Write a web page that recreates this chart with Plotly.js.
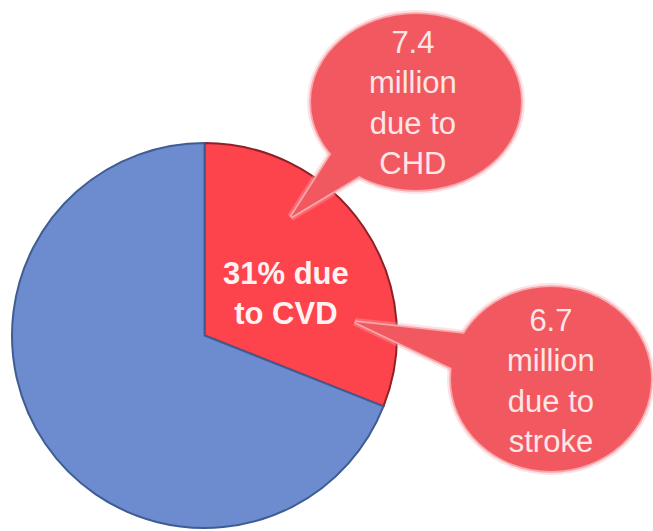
<!DOCTYPE html>
<html>
<head>
<meta charset="utf-8">
<script src="https://cdn.plot.ly/plotly-3.0.1.min.js"></script>
<style>html,body{margin:0;padding:0;background:#fff;}#chart{width:653px;height:531px;}</style>
</head>
<body>
<div id="chart"></div>
<script>
// ---- data ----
const labels = ["CVD", "Other causes"];
const values = [31, 69];
const sliceColors = ["#FD434C", "#6C8CCF"];
const centerLabel = "31% due<br>to CVD";
const calloutCHD = "7.4<br>million<br>due to<br>CHD";
const calloutStroke = "6.7<br>million<br>due to<br>stroke";

// ---- pixel helpers (paper coords) ----
const W = 653, H = 531;
const px = x => x / W;
const py = y => 1 - y / H;

function ellipse(cx, cy, rx, ry, style) {
  return Object.assign({type: "circle", xref: "paper", yref: "paper", layer: "above",
    x0: px(cx - rx), x1: px(cx + rx), y0: py(cy + ry), y1: py(cy - ry)}, style);
}
function tri(pts, style) {
  const p = pts.map((q, i) => (i ? "L" : "M") + px(q[0]) + "," + py(q[1])).join(" ") + " Z";
  return Object.assign({type: "path", xref: "paper", yref: "paper", layer: "above", path: p}, style);
}

const bubbles = [
  {cx: 416, cy: 102, rx: 105, ry: 88, tail: [[339, 142], [291, 217], [366, 172]]},
  {cx: 551, cy: 379, rx: 100, ry: 92, tail: [[475, 335], [355, 322], [462, 373]]}
];
const fillCol = "#F2585F";
const glow = {line: {color: "rgba(250,175,180,0.35)", width: 8}, fillcolor: "rgba(250,175,180,0.35)"};
const edge = {line: {color: "#F8A7AB", width: 3.5}, fillcolor: fillCol};
const fill = {line: {width: 0}, fillcolor: fillCol};
const shapes = [];
[glow, edge, fill].forEach(st => {
  bubbles.forEach(b => {
    shapes.push(ellipse(b.cx, b.cy, b.rx, b.ry, JSON.parse(JSON.stringify(st))));
    shapes.push(tri(b.tail, JSON.parse(JSON.stringify(st))));
  });
});

const trace = {
  type: "pie",
  labels: labels,
  values: values,
  sort: false,
  direction: "clockwise",
  rotation: 0,
  textinfo: "none",
  hoverinfo: "label+percent",
  marker: {colors: sliceColors, line: {color: ["#8E2026", "#3F5C93"], width: 2}},
  domain: {x: [px(12), px(397)], y: [py(528), py(143)]},
  showlegend: false
};

const bubbleFont = {family: "Liberation Sans, Arial, sans-serif", size: 31, color: "#FDE6E7"};
const annotations = [
  {xref: "paper", yref: "paper", x: px(286), y: py(293), text: "<b>" + centerLabel + "</b>",
   showarrow: false, xanchor: "center", yanchor: "middle",
   font: {family: "Liberation Sans, Arial, sans-serif", size: 31, color: "#FFF2F2"}},
  {xref: "paper", yref: "paper", x: px(413), y: py(103), text: calloutCHD,
   showarrow: false, xanchor: "center", yanchor: "middle", font: bubbleFont},
  {xref: "paper", yref: "paper", x: px(551), y: py(381), text: calloutStroke,
   showarrow: false, xanchor: "center", yanchor: "middle", font: bubbleFont}
];

const layout = {
  width: W, height: H,
  margin: {l: 0, r: 0, t: 0, b: 0},
  paper_bgcolor: "#ffffff",
  plot_bgcolor: "#ffffff",
  shapes: shapes,
  annotations: annotations,
  showlegend: false
};

Plotly.newPlot("chart", [trace], layout, {displayModeBar: false, staticPlot: true});
</script>
</body>
</html>
